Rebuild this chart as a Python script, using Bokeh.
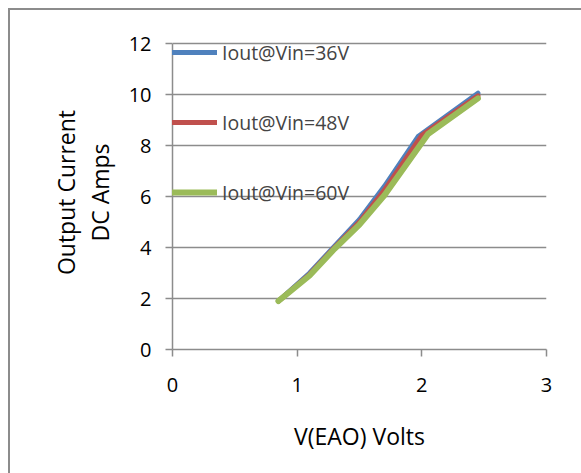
from bokeh.plotting import figure
from bokeh.models import Legend, LegendItem, Range1d, FixedTicker, InlineStyleSheet
from bokeh.embed import file_html
from bokeh.resources import INLINE

# Data
v_36 = [0.85, 1.10, 1.30, 1.50, 1.70, 1.97, 2.45]
i_36 = [1.90, 3.00, 4.05, 5.10, 6.40, 8.35, 10.05]
v_48 = [0.85, 1.10, 1.30, 1.50, 1.70, 2.00, 2.45]
i_48 = [1.90, 2.95, 4.00, 5.00, 6.25, 8.40, 9.95]
v_60 = [0.85, 1.10, 1.30, 1.50, 1.70, 2.05, 2.45]
i_60 = [1.90, 2.90, 3.95, 4.90, 6.05, 8.45, 9.85]
labels = ["Iout@Vin=36V", "Iout@Vin=48V", "Iout@Vin=60V"]
colors = ["#4F81BD", "#C0504D", "#9BBB59"]
x_ticks = [0, 1, 2, 3]
y_ticks = [0, 2, 4, 6, 8, 10, 12]

FONT = "Open Sans"
GRID = "#8c8c8c"

# frame extends a little above the 12 line so the legend text is not clipped
Y_TOP = 12 * 314 / 306

p = figure(width=581, height=473, output_backend="svg", toolbar_location=None,
           x_range=Range1d(0, 3), y_range=Range1d(0, Y_TOP),
           min_border_left=172, min_border_right=35, min_border_top=35, min_border_bottom=124)
p.outline_line_color = None

# outer chart-area border (only its left and top edges are visible)
p.stylesheets = [InlineStyleSheet(css=(
    ":host::after { content: ''; position: absolute; left: 8px; top: 8px; right: 0; bottom: 0;"
    " border-left: 2px solid #8c8c8c; border-top: 2px solid #8c8c8c; pointer-events: none; }"
))]

p.xgrid.grid_line_color = None
p.ygrid.grid_line_color = GRID
p.ygrid.grid_line_width = 1.5
p.ygrid.ticker = FixedTicker(ticks=y_ticks)

p.xaxis.ticker = FixedTicker(ticks=x_ticks)
p.yaxis.ticker = FixedTicker(ticks=y_ticks)
p.yaxis.bounds = (0, 12)
for ax in (p.xaxis[0], p.yaxis[0]):
    ax.axis_line_color = GRID
    ax.axis_line_width = 1.5
    ax.major_tick_line_color = GRID
    ax.major_tick_line_width = 1.5
    ax.major_tick_in = 0
    ax.major_tick_out = 7
    ax.minor_tick_line_color = None
    ax.major_label_text_font = FONT
    ax.major_label_text_font_size = "20px"
    ax.major_label_text_color = "#000000"
    ax.axis_label_text_font = FONT
    ax.axis_label_text_font_size = "23px"
    ax.axis_label_text_font_style = "normal"
    ax.axis_label_text_color = "#000000"

p.xaxis.major_label_standoff = 21
p.yaxis.major_label_standoff = 14
p.xaxis.axis_label = "V(EAO) Volts"
p.xaxis.axis_label_standoff = 25
p.yaxis.axis_label = "Output Current\nDC Amps"
p.yaxis.axis_label_standoff = 10
p.yaxis.axis_label_text_line_height = 1.05

r36 = p.line(v_36, i_36, line_color=colors[0], line_width=5, line_cap="round", line_join="round")
r48 = p.line(v_48, i_48, line_color=colors[1], line_width=5, line_cap="round", line_join="round")
r60 = p.line(v_60, i_60, line_color=colors[2], line_width=6, line_cap="round", line_join="round")

legend = Legend(items=[LegendItem(label=labels[0], renderers=[r36]),
                       LegendItem(label=labels[1], renderers=[r48]),
                       LegendItem(label=labels[2], renderers=[r60])],
                location=(-9, 142))
legend.padding = 0
legend.margin = 0
legend.spacing = 40
legend.glyph_width = 54
legend.glyph_height = 30
legend.label_height = 30
legend.label_standoff = 5
legend.label_text_font = FONT
legend.label_text_font_size = "19.5px"
legend.border_line_color = None
legend.background_fill_alpha = 0
p.add_layout(legend, "center")

open("out.html", "w").write(file_html(p, INLINE))
